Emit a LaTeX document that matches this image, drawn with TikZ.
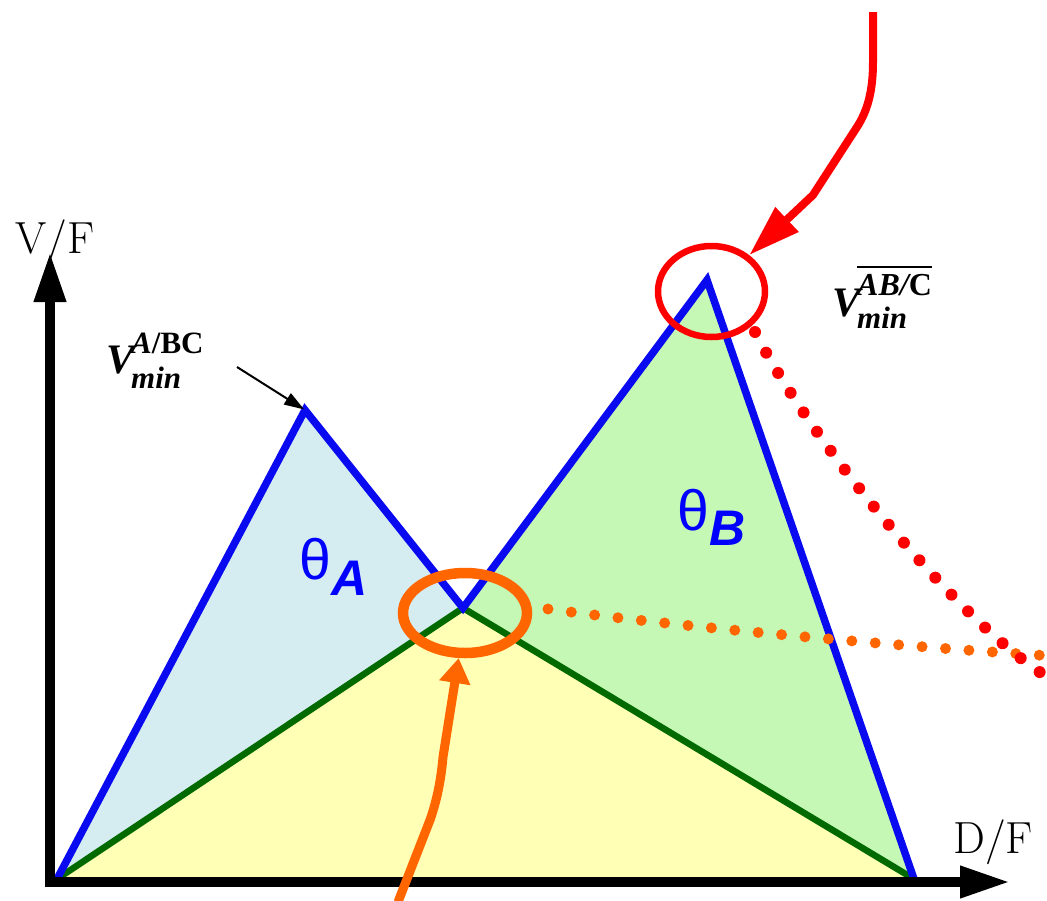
\documentclass[tikz,border=0pt]{standalone}
\usepackage{fontspec}
\newfontfamily\timesf{Liberation Serif}
\newfontfamily\arialf{Liberation Sans}
\usetikzlibrary{arrows.meta,shapes.geometric}
\definecolor{fillA}{HTML}{D5EDF0}
\definecolor{fillB}{HTML}{C5F8B5}
\definecolor{fillY}{HTML}{FFFFB5}
\definecolor{lineblue}{HTML}{0A0AF0}
\definecolor{linegreen}{HTML}{006A00}
\definecolor{myorange}{HTML}{FF6600}
\definecolor{myred}{HTML}{FF0000}
\tikzset{
  axisline/.style={line width=10pt,-{Triangle[length=50pt,width=30pt]}},
  blueline/.style={line width=7.5pt,lineblue},
  greenline/.style={line width=6.5pt,linegreen},
  ringred/.style={ellipse,draw=myred,line width=6.5pt,inner sep=0pt},
  ringorange/.style={ellipse,draw=myorange,line width=10.5pt,inner sep=0pt},
  reddots/.style={myred,line width=12pt,line cap=round,dash pattern=on 0pt off 23.5pt},
  orangedots/.style={myorange,line width=11pt,line cap=round,dash pattern=on 0pt off 23.5pt},
  axislabel/.style={anchor=base west,inner sep=0pt,font=\fontsize{45}{45}\selectfont},
  thetalabel/.style={anchor=base west,inner sep=0pt,text=blue,font=\arialf\fontsize{57}{57}\selectfont},
  vminlabel/.style={anchor=base west,inner sep=0pt,font=\timesf\bfseries\itshape\fontsize{42}{42}\selectfont}
}
\begin{document}
\begin{tikzpicture}[x=1pt,y=-1pt]
\useasboundingbox (0,0) rectangle (1047,900);
% vertices
\coordinate (O) at (57,879);
\coordinate (peakA) at (305,410);
\coordinate (valley) at (463,608);
\coordinate (peakB) at (707,280);
\coordinate (R) at (914,879);
% fills
\fill[fillY] (O) -- (valley) -- (R) -- cycle;
\fill[fillA] (O) -- (peakA) -- (valley) -- cycle;
\fill[fillB] (valley) -- (peakB) -- (R) -- cycle;
% lines
\draw[greenline] (O) -- (valley) -- (R);
\draw[blueline] (O) -- (peakA) -- (valley) -- (peakB) -- (R);
% axes
\coordinate (xstart) at (45,882);
\coordinate (xend) at (1010,882);
\coordinate (ystart) at (50,887);
\coordinate (yend) at (50,252);
\draw[axisline] (ystart) -- (yend);
\draw[axisline] (xstart) -- (xend);
\node[axislabel] (vf) at (15,253) {V/F};
\node[axislabel] (df) at (953,853) {D/F};
% theta labels
\node[thetalabel] (thA) at (299,579) {θ\kern1pt\raisebox{-16pt}{\fontsize{50}{50}\selectfont\bfseries\itshape A}};
\node[thetalabel] (thB) at (677,530) {θ\kern1pt\raisebox{-15pt}{\fontsize{50}{50}\selectfont\bfseries\itshape B}};
% Vmin labels
\node[vminlabel] (vminA) at (106,373) {V\kern-3pt\rlap{\raisebox{20pt}{\fontsize{31}{31}\selectfont A\upshape/BC}}\raisebox{-15pt}{\fontsize{31}{31}\selectfont min}};
\node[vminlabel] (vminB) at (832,316) {V\kern-3pt\rlap{\raisebox{21pt}{\vbox{\hrule height 2pt\kern 6pt\hbox{\fontsize{32}{32}\selectfont AB/\upshape C}}}}\raisebox{-12pt}{\fontsize{31}{31}\selectfont min}};
\coordinate (arrA) at (237,367);
\draw[line width=2pt,-{Triangle[length=20pt,width=13pt]},shorten >=1pt] (arrA) -- (peakA);
% rings
\node[ringorange,minimum width=124pt,minimum height=80pt] (oring) at (465,613) {};
\node[ringred,minimum width=107pt,minimum height=91pt] (rring) at (711.5,291.5) {};
% dotted curves
\coordinate (odStart) at (548,609);
\coordinate (odEnd) at (1052,656);
\draw[orangedots] (odStart) .. controls (650,623) and (850,643) .. (odEnd);
\coordinate (rdStart) at (755,332);
\coordinate (rdEnd) at (1052,680);
\draw[reddots] (rdStart) .. controls (810,440) and (960,625) .. (rdEnd);
% arrows to rings
\coordinate (redTop) at (873,12);
\draw[myred,line width=8pt,-{Triangle[length=52pt,width=32pt]}] (redTop) -- (873,62) .. controls (873,90) and (868,110) .. (857,127) -- (813,195) -- (rring.44);
\coordinate (orBot) at (398,902);
\draw[myorange,line width=9pt,-{Triangle[length=25pt,width=30pt]}] (orBot) -- (430,820) .. controls (437,800) and (441,780) .. (443,757) -- (oring.262);
\end{tikzpicture}
\end{document}
